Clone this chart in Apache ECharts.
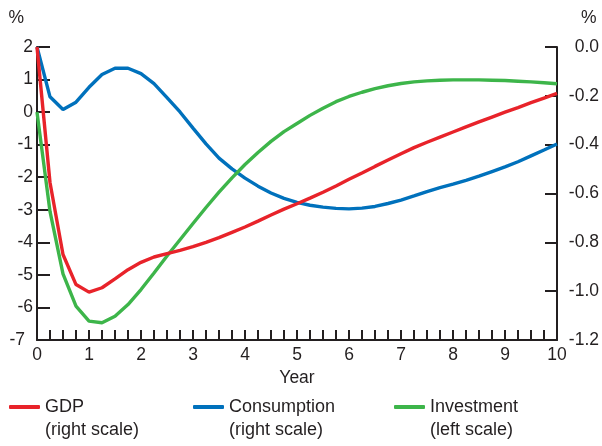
<!DOCTYPE html>
<html>
<head>
<meta charset="utf-8">
<script src="https://cdn.jsdelivr.net/npm/echarts@6/dist/echarts.min.js"></script>
<style>html,body{margin:0;padding:0;background:#fff}#c{width:602px;height:446px}</style>
</head>
<body>
<div id="c"></div>
<script>
// Quarterly horizon (years), one point per quarter from 0 to 10
var years = [];
for (var i = 0; i <= 40; i++) { years.push(i / 4); }

var seriesNames = ['GDP', 'Consumption', 'Investment'];
var scaleNotes = ['(right scale)', '(right scale)', '(left scale)'];
var colors = ['#e8232a', '#0071bc', '#3db54a'];

// GDP, % (right scale)
var gdp = [0, -0.555, -0.85, -0.973, -1.004, -0.986, -0.950, -0.912, -0.882, -0.860,
  -0.846, -0.833, -0.818, -0.800, -0.781, -0.759, -0.737, -0.713, -0.688, -0.664,
  -0.642, -0.619, -0.595, -0.569, -0.542, -0.516, -0.489, -0.463, -0.437, -0.412,
  -0.390, -0.369, -0.348, -0.327, -0.307, -0.287, -0.267, -0.248, -0.228, -0.209, -0.190];

// Consumption, % (right scale)
var consumption = [0, -0.204, -0.256, -0.226, -0.165, -0.113, -0.087, -0.087, -0.109, -0.150,
  -0.207, -0.266, -0.332, -0.397, -0.455, -0.499, -0.537, -0.570, -0.598, -0.620,
  -0.636, -0.648, -0.656, -0.661, -0.663, -0.660, -0.653, -0.641, -0.627, -0.610,
  -0.592, -0.576, -0.562, -0.546, -0.529, -0.510, -0.491, -0.470, -0.446, -0.422, -0.397];

// Investment, % (left scale)
var investment = [0, -3.05, -4.97, -5.96, -6.42, -6.47, -6.27, -5.91, -5.45, -4.94,
  -4.42, -3.92, -3.42, -2.93, -2.46, -2.02, -1.61, -1.24, -0.90, -0.60,
  -0.35, -0.10, 0.12, 0.32, 0.48, 0.61, 0.72, 0.81, 0.88, 0.93,
  0.96, 0.98, 0.99, 0.99, 0.99, 0.98, 0.97, 0.95, 0.93, 0.90, 0.87];

var xTicks = { min: 0, max: 10, interval: 1, quarters: 4 };
var leftTicks = { min: -7, max: 2, interval: 1 };
var rightTicks = { min: -1.2, max: 0, interval: 0.2 };

function pairs(vals) { return vals.map(function (v, k) { return [years[k], v]; }); }

var ink = '#231f20';
var font = 'Liberation Sans, Arial, Helvetica, sans-serif';
var axisFs = 17.5;
var legFs = 18;
var chart = echarts.init(document.getElementById('c'), null, { renderer: 'canvas' });

var legendLefts = [9, 193, 394];
var legends = seriesNames.map(function (n, k) {
  return {
    data: [n], left: legendLefts[k], top: 398, padding: 0,
    icon: 'roundRect', itemWidth: 31, itemHeight: 4,
    selectedMode: false,
    textStyle: { fontSize: legFs, color: ink, fontFamily: font }
  };
});
var notes = scaleNotes.map(function (t, k) {
  return {
    id: 'note' + k, type: 'text', left: legendLefts[k] + 36, top: 421,
    style: { text: t, fontSize: legFs, fill: ink, fontFamily: font }
  };
});

function tl() { return { color: ink, width: 2 }; }

chart.setOption({
  animation: false,
  grid: { left: 37, right: 45, top: 47, bottom: 106 },
  legend: legends,
  graphic: notes,
  xAxis: {
    type: 'value',
    min: xTicks.min, max: xTicks.max, interval: xTicks.interval,
    name: 'Year', nameLocation: 'middle', nameGap: 28,
    nameTextStyle: { fontSize: axisFs, color: ink, fontFamily: font },
    axisLine: { show: true, onZero: false, lineStyle: tl() },
    axisTick: { show: true, inside: true, length: 10, lineStyle: tl() },
    minorTick: { show: true, splitNumber: xTicks.quarters, length: 10, lineStyle: tl() },
    axisLabel: { margin: 6, fontSize: axisFs, color: ink, fontFamily: font },
    splitLine: { show: false }
  },
  yAxis: [{
    type: 'value', position: 'left',
    min: leftTicks.min, max: leftTicks.max, interval: leftTicks.interval,
    name: '%', nameLocation: 'end', nameGap: 20,
    nameTextStyle: { fontSize: axisFs, color: ink, fontFamily: font, align: 'right', padding: [0, 13, 0, 0] },
    axisLine: { show: true, onZero: false, lineStyle: tl() },
    axisTick: { show: true, inside: true, length: 13, lineStyle: tl() },
    axisLabel: {
      margin: 4, fontSize: axisFs, color: ink, fontFamily: font,
      formatter: function (v) { return v === leftTicks.min ? '{s|' + v + '}' : String(v); },
      rich: { s: { fontSize: axisFs, color: ink, fontFamily: font, padding: [0, 8, 0, 0] } }
    },
    splitLine: { show: false }
  }, {
    type: 'value', position: 'right',
    min: rightTicks.min, max: rightTicks.max, interval: rightTicks.interval,
    name: '%', nameLocation: 'end', nameGap: 20,
    nameTextStyle: { fontSize: axisFs, color: ink, fontFamily: font, align: 'left', padding: [0, 0, 0, 24] },
    axisLine: { show: true, onZero: false, lineStyle: tl() },
    axisTick: { show: true, inside: true, length: 12, lineStyle: tl() },
    axisLabel: {
      margin: 42, align: 'right', fontSize: axisFs, color: ink, fontFamily: font,
      formatter: function (v) { return (Math.abs(v) < 1e-9 ? 0 : v).toFixed(1); }
    },
    splitLine: { show: false }
  }],
  series: [
    { name: seriesNames[1], type: 'line', yAxisIndex: 1, data: pairs(consumption), color: colors[1] },
    { name: seriesNames[2], type: 'line', yAxisIndex: 0, data: pairs(investment), color: colors[2] },
    { name: seriesNames[0], type: 'line', yAxisIndex: 1, data: pairs(gdp), color: colors[0] }
  ].map(function (s) {
    s.showSymbol = false; s.symbol = 'none'; s.smooth = false;
    s.lineStyle = { width: 3.4, color: s.color };
    s.itemStyle = { color: s.color };
    return s;
  })
});

// If the quarter ticks on the year axis did not render, place them at the
// positions given by the axis scale itself.
chart.getZr().refreshImmediately();
(function () {
  var cv = chart.getDom().querySelector('canvas');
  var probe = chart.convertToPixel({ xAxisIndex: 0, yAxisIndex: 0 }, [years[2], leftTicks.min]);
  var dark = false;
  try {
    var px = cv.getContext('2d').getImageData(Math.round(probe[0]), Math.round(probe[1]) - 5, 1, 1).data;
    dark = px[3] > 100 && px[0] < 150;
  } catch (e) { dark = false; }
  if (dark) return;
  var ticks = years.map(function (yv, k) {
    var p = chart.convertToPixel({ xAxisIndex: 0, yAxisIndex: 0 }, [yv, leftTicks.min]);
    return {
      id: 'qt' + k, type: 'line', z: 10,
      shape: { x1: p[0], y1: p[1], x2: p[0], y2: p[1] - 10 },
      style: { stroke: ink, lineWidth: 2 }
    };
  });
  chart.setOption({ graphic: notes.concat(ticks) });
})();
</script>
</body>
</html>
